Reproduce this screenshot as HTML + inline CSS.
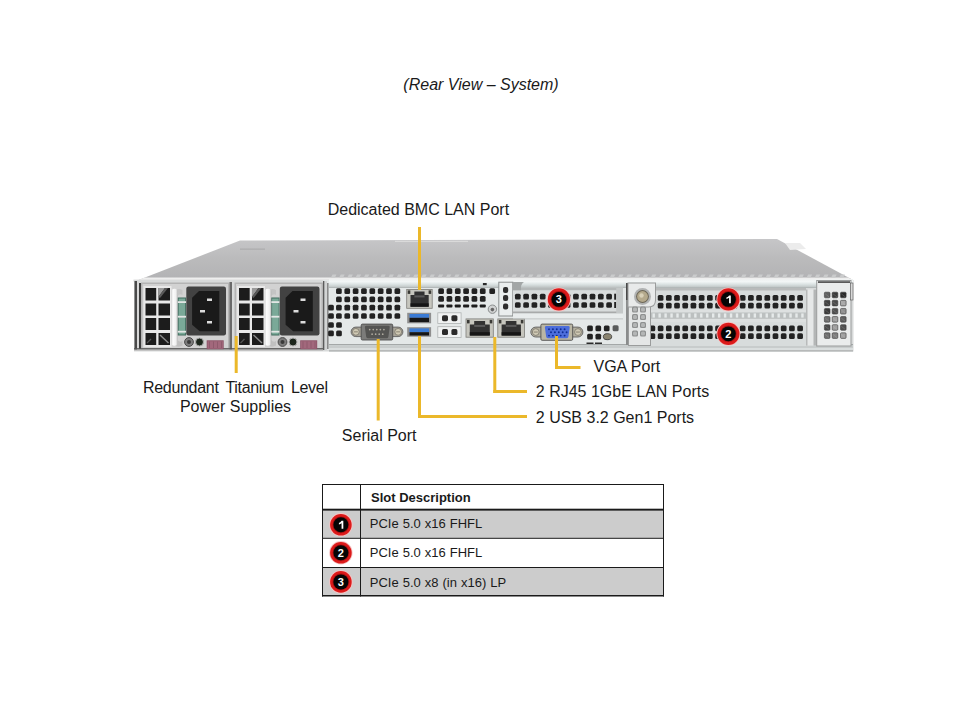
<!DOCTYPE html>
<html><head><meta charset="utf-8"><title>Rear View - System</title>
<style>html,body{margin:0;padding:0;background:#fff;width:960px;height:720px;overflow:hidden;position:relative}</style>
</head><body>
<svg width="960" height="720" viewBox="0 0 960 720" style="position:absolute;left:0;top:0">
<defs><linearGradient id="lid" x1="0" y1="0" x2="0" y2="1"><stop offset="0" stop-color="#c6c6c8"/><stop offset="0.45" stop-color="#bbbbbc"/><stop offset="1" stop-color="#b2b2b4"/></linearGradient><linearGradient id="rail" x1="0" y1="0" x2="0" y2="1"><stop offset="0" stop-color="#eef0f0"/><stop offset="0.3" stop-color="#f2f6f6"/><stop offset="0.65" stop-color="#d6dede"/><stop offset="0.88" stop-color="#c2c8c8"/><stop offset="1" stop-color="#a4aaaa"/></linearGradient><linearGradient id="brail" x1="0" y1="0" x2="0" y2="1"><stop offset="0" stop-color="#c8caca"/><stop offset="0.3" stop-color="#e8eaea"/><stop offset="0.8" stop-color="#dcdede"/><stop offset="1" stop-color="#8e9090"/></linearGradient><linearGradient id="hdl" x1="0" y1="0" x2="1" y2="0"><stop offset="0" stop-color="#d4d4d4"/><stop offset="0.25" stop-color="#fcfcfc"/><stop offset="0.7" stop-color="#f0f0f0"/><stop offset="1" stop-color="#b8b8b8"/></linearGradient></defs>
<polygon points="136,281 240,240.5 777,239 853,280" fill="url(#lid)"/>
<polygon points="785,243 800,243 806,249 790,250" fill="#ececec"/>
<rect x="395.00" y="240.80" width="73.00" height="1.20" fill="#dadada" />
<rect x="240.00" y="248.60" width="25.00" height="1.00" fill="#a8a8aa" />
<polygon points="136,281 144.7,277.6 848.5,277.6 853,281" fill="#eeeeee"/>
<rect x="133.50" y="279.60" width="719.50" height="1.90" fill="#d6d8d8" />
<polygon points="332.50,274.6 336.50,274.6 335.00,277.4 331.00,277.4" fill="#cacbcc"/>
<polygon points="340.70,274.6 344.70,274.6 343.20,277.4 339.20,277.4" fill="#cacbcc"/>
<polygon points="348.90,274.6 352.90,274.6 351.40,277.4 347.40,277.4" fill="#cacbcc"/>
<polygon points="357.10,274.6 361.10,274.6 359.60,277.4 355.60,277.4" fill="#cacbcc"/>
<polygon points="365.30,274.6 369.30,274.6 367.80,277.4 363.80,277.4" fill="#cacbcc"/>
<polygon points="373.50,274.6 377.50,274.6 376.00,277.4 372.00,277.4" fill="#cacbcc"/>
<polygon points="381.70,274.6 385.70,274.6 384.20,277.4 380.20,277.4" fill="#cacbcc"/>
<polygon points="389.90,274.6 393.90,274.6 392.40,277.4 388.40,277.4" fill="#cacbcc"/>
<polygon points="398.10,274.6 402.10,274.6 400.60,277.4 396.60,277.4" fill="#cacbcc"/>
<polygon points="406.30,274.6 410.30,274.6 408.80,277.4 404.80,277.4" fill="#cacbcc"/>
<polygon points="414.50,274.6 418.50,274.6 417.00,277.4 413.00,277.4" fill="#cacbcc"/>
<polygon points="422.70,274.6 426.70,274.6 425.20,277.4 421.20,277.4" fill="#cacbcc"/>
<polygon points="430.90,274.6 434.90,274.6 433.40,277.4 429.40,277.4" fill="#cacbcc"/>
<polygon points="439.10,274.6 443.10,274.6 441.60,277.4 437.60,277.4" fill="#cacbcc"/>
<polygon points="447.30,274.6 451.30,274.6 449.80,277.4 445.80,277.4" fill="#cacbcc"/>
<polygon points="455.50,274.6 459.50,274.6 458.00,277.4 454.00,277.4" fill="#cacbcc"/>
<polygon points="463.70,274.6 467.70,274.6 466.20,277.4 462.20,277.4" fill="#cacbcc"/>
<polygon points="471.90,274.6 475.90,274.6 474.40,277.4 470.40,277.4" fill="#cacbcc"/>
<polygon points="480.10,274.6 484.10,274.6 482.60,277.4 478.60,277.4" fill="#cacbcc"/>
<polygon points="488.30,274.6 492.30,274.6 490.80,277.4 486.80,277.4" fill="#cacbcc"/>
<polygon points="496.50,274.6 500.50,274.6 499.00,277.4 495.00,277.4" fill="#cacbcc"/>
<polygon points="504.70,274.6 508.70,274.6 507.20,277.4 503.20,277.4" fill="#cacbcc"/>
<polygon points="512.90,274.6 516.90,274.6 515.40,277.4 511.40,277.4" fill="#cacbcc"/>
<polygon points="521.10,274.6 525.10,274.6 523.60,277.4 519.60,277.4" fill="#cacbcc"/>
<polygon points="529.30,274.6 533.30,274.6 531.80,277.4 527.80,277.4" fill="#cacbcc"/>
<polygon points="537.50,274.6 541.50,274.6 540.00,277.4 536.00,277.4" fill="#cacbcc"/>
<polygon points="545.70,274.6 549.70,274.6 548.20,277.4 544.20,277.4" fill="#cacbcc"/>
<polygon points="553.90,274.6 557.90,274.6 556.40,277.4 552.40,277.4" fill="#cacbcc"/>
<polygon points="562.10,274.6 566.10,274.6 564.60,277.4 560.60,277.4" fill="#cacbcc"/>
<polygon points="570.30,274.6 574.30,274.6 572.80,277.4 568.80,277.4" fill="#cacbcc"/>
<polygon points="578.50,274.6 582.50,274.6 581.00,277.4 577.00,277.4" fill="#cacbcc"/>
<polygon points="586.70,274.6 590.70,274.6 589.20,277.4 585.20,277.4" fill="#cacbcc"/>
<polygon points="594.90,274.6 598.90,274.6 597.40,277.4 593.40,277.4" fill="#cacbcc"/>
<polygon points="603.10,274.6 607.10,274.6 605.60,277.4 601.60,277.4" fill="#cacbcc"/>
<polygon points="611.30,274.6 615.30,274.6 613.80,277.4 609.80,277.4" fill="#cacbcc"/>
<polygon points="619.50,274.6 623.50,274.6 622.00,277.4 618.00,277.4" fill="#cacbcc"/>
<polygon points="627.70,274.6 631.70,274.6 630.20,277.4 626.20,277.4" fill="#cacbcc"/>
<polygon points="635.90,274.6 639.90,274.6 638.40,277.4 634.40,277.4" fill="#cacbcc"/>
<polygon points="644.10,274.6 648.10,274.6 646.60,277.4 642.60,277.4" fill="#cacbcc"/>
<polygon points="652.30,274.6 656.30,274.6 654.80,277.4 650.80,277.4" fill="#cacbcc"/>
<polygon points="660.50,274.6 664.50,274.6 663.00,277.4 659.00,277.4" fill="#cacbcc"/>
<polygon points="668.70,274.6 672.70,274.6 671.20,277.4 667.20,277.4" fill="#cacbcc"/>
<polygon points="676.90,274.6 680.90,274.6 679.40,277.4 675.40,277.4" fill="#cacbcc"/>
<polygon points="685.10,274.6 689.10,274.6 687.60,277.4 683.60,277.4" fill="#cacbcc"/>
<polygon points="693.30,274.6 697.30,274.6 695.80,277.4 691.80,277.4" fill="#cacbcc"/>
<polygon points="701.50,274.6 705.50,274.6 704.00,277.4 700.00,277.4" fill="#cacbcc"/>
<polygon points="709.70,274.6 713.70,274.6 712.20,277.4 708.20,277.4" fill="#cacbcc"/>
<polygon points="717.90,274.6 721.90,274.6 720.40,277.4 716.40,277.4" fill="#cacbcc"/>
<polygon points="726.10,274.6 730.10,274.6 728.60,277.4 724.60,277.4" fill="#cacbcc"/>
<polygon points="734.30,274.6 738.30,274.6 736.80,277.4 732.80,277.4" fill="#cacbcc"/>
<polygon points="742.50,274.6 746.50,274.6 745.00,277.4 741.00,277.4" fill="#cacbcc"/>
<polygon points="750.70,274.6 754.70,274.6 753.20,277.4 749.20,277.4" fill="#cacbcc"/>
<polygon points="758.90,274.6 762.90,274.6 761.40,277.4 757.40,277.4" fill="#cacbcc"/>
<polygon points="767.10,274.6 771.10,274.6 769.60,277.4 765.60,277.4" fill="#cacbcc"/>
<polygon points="775.30,274.6 779.30,274.6 777.80,277.4 773.80,277.4" fill="#cacbcc"/>
<polygon points="783.50,274.6 787.50,274.6 786.00,277.4 782.00,277.4" fill="#cacbcc"/>
<polygon points="791.70,274.6 795.70,274.6 794.20,277.4 790.20,277.4" fill="#cacbcc"/>
<polygon points="799.90,274.6 803.90,274.6 802.40,277.4 798.40,277.4" fill="#cacbcc"/>
<polygon points="808.10,274.6 812.10,274.6 810.60,277.4 806.60,277.4" fill="#cacbcc"/>
<polygon points="816.30,274.6 820.30,274.6 818.80,277.4 814.80,277.4" fill="#cacbcc"/>
<polygon points="824.50,274.6 828.50,274.6 827.00,277.4 823.00,277.4" fill="#cacbcc"/>
<polygon points="832.70,274.6 836.70,274.6 835.20,277.4 831.20,277.4" fill="#cacbcc"/>
<polygon points="840.90,274.6 844.90,274.6 843.40,277.4 839.40,277.4" fill="#cacbcc"/>
<rect x="134.00" y="280.00" width="719.50" height="71.50" fill="#d8dada" />
<rect x="134.50" y="281.00" width="2.50" height="70.00" fill="#4a4a4a" />
<rect x="137.00" y="282.00" width="2.00" height="68.00" fill="#d8d8d8" />
<rect x="139.00" y="283.00" width="2.50" height="66.00" fill="#3a3a3a" />
<rect x="141.00" y="282.50" width="88.50" height="67.00" fill="#b4b4b4" />
<rect x="142.50" y="284.00" width="85.50" height="64.00" fill="#d2d2d2" />
<rect x="143.50" y="286.00" width="28.00" height="61.00" fill="#e8e8e8" />
<rect x="145.50" y="288.00" width="10.70" height="12.50" fill="#1c1c1c" />
<rect x="145.50" y="303.50" width="10.70" height="12.00" fill="#1c1c1c" />
<rect x="145.50" y="318.00" width="10.70" height="12.00" fill="#1c1c1c" />
<rect x="145.50" y="333.00" width="10.70" height="12.00" fill="#1c1c1c" />
<rect x="158.50" y="288.00" width="11.50" height="12.50" fill="#1c1c1c" />
<rect x="158.50" y="303.50" width="11.50" height="12.00" fill="#1c1c1c" />
<rect x="158.50" y="318.00" width="11.50" height="12.00" fill="#1c1c1c" />
<rect x="158.50" y="333.00" width="11.50" height="12.00" fill="#1c1c1c" />
<polygon points="158.4,288 165,288 158.4,297" fill="#9a9a9a"/>
<polygon points="165,288 168,288 160,298 158.4,297" fill="#5a5a5a"/>
<path d="M160,335 L168.5,343" stroke="#8a8a8a" stroke-width="1.4"/>
<path d="M147,343 L151,339" stroke="#555" stroke-width="1.2"/>
<path d="M174,291 Q178,287.5 182.5,290 L182.5,295 Q180,293 177.6,296 Z" fill="#c4c4c4"/>
<path d="M174,345 Q178,348 182.5,345.5 L182.5,341 Q180,343 177.6,340 Z" fill="#c0c0c0"/>
<rect x="171.3" y="288.8" width="6.6" height="57" rx="3.2" fill="url(#hdl)"/>
<rect x="177.80" y="297.50" width="8.20" height="38.00" fill="#3f6a5c" />
<rect x="178.60" y="298.50" width="6.60" height="36.00" fill="#7aa998" />
<rect x="177.80" y="301.20" width="8.20" height="1.80" fill="#e2e6e4" />
<rect x="177.80" y="315.80" width="8.20" height="1.80" fill="#e2e6e4" />
<rect x="177.80" y="330.80" width="8.20" height="1.80" fill="#e2e6e4" />
<rect x="186.30" y="286.50" width="39.70" height="49.00" fill="#424242" rx="2.2"/>
<polygon points="199,291 219.3,291 219.3,331.3 199.7,331.3 192.1,324.7 192.1,297.7" fill="#1a1a1a"/>
<rect x="207.00" y="298.50" width="5.00" height="2.50" fill="#dcdcdc" />
<rect x="200.00" y="310.00" width="5.00" height="2.50" fill="#dcdcdc" />
<rect x="207.00" y="321.00" width="5.00" height="2.50" fill="#dcdcdc" />
<circle cx="189" cy="342" r="4.4" fill="#7c7c7c" stroke="#4a4a4a" stroke-width="1"/>
<circle cx="189" cy="342" r="2" fill="#3a3a3a"/>
<circle cx="199.5" cy="342" r="4" fill="#1c261c" stroke="#b0b0b0" stroke-width="1"/>
<rect x="229.50" y="282.00" width="2.50" height="68.00" fill="#6a6a6a" />
<rect x="234.50" y="282.50" width="88.50" height="67.00" fill="#b4b4b4" />
<rect x="236.00" y="284.00" width="85.50" height="64.00" fill="#d2d2d2" />
<rect x="237.00" y="286.00" width="28.00" height="61.00" fill="#e8e8e8" />
<rect x="239.00" y="288.00" width="10.70" height="12.50" fill="#1c1c1c" />
<rect x="239.00" y="303.50" width="10.70" height="12.00" fill="#1c1c1c" />
<rect x="239.00" y="318.00" width="10.70" height="12.00" fill="#1c1c1c" />
<rect x="239.00" y="333.00" width="10.70" height="12.00" fill="#1c1c1c" />
<rect x="252.00" y="288.00" width="11.50" height="12.50" fill="#1c1c1c" />
<rect x="252.00" y="303.50" width="11.50" height="12.00" fill="#1c1c1c" />
<rect x="252.00" y="318.00" width="11.50" height="12.00" fill="#1c1c1c" />
<rect x="252.00" y="333.00" width="11.50" height="12.00" fill="#1c1c1c" />
<polygon points="251.9,288 258.5,288 251.9,297" fill="#9a9a9a"/>
<polygon points="258.5,288 261.5,288 253.5,298 251.9,297" fill="#5a5a5a"/>
<path d="M253.5,335 L262.0,343" stroke="#8a8a8a" stroke-width="1.4"/>
<path d="M240.5,343 L244.5,339" stroke="#555" stroke-width="1.2"/>
<path d="M267.5,291 Q271.5,287.5 276.0,290 L276.0,295 Q273.5,293 271.1,296 Z" fill="#c4c4c4"/>
<path d="M267.5,345 Q271.5,348 276.0,345.5 L276.0,341 Q273.5,343 271.1,340 Z" fill="#c0c0c0"/>
<rect x="264.8" y="288.8" width="6.6" height="57" rx="3.2" fill="url(#hdl)"/>
<rect x="271.30" y="297.50" width="8.20" height="38.00" fill="#3f6a5c" />
<rect x="272.10" y="298.50" width="6.60" height="36.00" fill="#7aa998" />
<rect x="271.30" y="301.20" width="8.20" height="1.80" fill="#e2e6e4" />
<rect x="271.30" y="315.80" width="8.20" height="1.80" fill="#e2e6e4" />
<rect x="271.30" y="330.80" width="8.20" height="1.80" fill="#e2e6e4" />
<rect x="279.80" y="286.50" width="39.70" height="49.00" fill="#424242" rx="2.2"/>
<polygon points="292.5,291 312.8,291 312.8,331.3 293.2,331.3 285.6,324.7 285.6,297.7" fill="#1a1a1a"/>
<rect x="300.50" y="298.50" width="5.00" height="2.50" fill="#dcdcdc" />
<rect x="293.50" y="310.00" width="5.00" height="2.50" fill="#dcdcdc" />
<rect x="300.50" y="321.00" width="5.00" height="2.50" fill="#dcdcdc" />
<circle cx="282.5" cy="342" r="4.4" fill="#7c7c7c" stroke="#4a4a4a" stroke-width="1"/>
<circle cx="282.5" cy="342" r="2" fill="#3a3a3a"/>
<circle cx="293.0" cy="342" r="4" fill="#1c261c" stroke="#b0b0b0" stroke-width="1"/>
<rect x="134.00" y="348.20" width="189.00" height="1.40" fill="#555555" />
<rect x="134.00" y="349.60" width="189.00" height="1.40" fill="#c4c4c4" />
<rect x="206.70" y="340.30" width="17.00" height="8.90" fill="#8a5266" />
<rect x="207.50" y="341.20" width="15.40" height="7.40" fill="#a2687c" />
<rect x="209.00" y="341.50" width="1.00" height="6.50" fill="#8e5a6c" />
<rect x="213.00" y="341.50" width="1.00" height="6.50" fill="#8e5a6c" />
<rect x="217.00" y="341.50" width="1.00" height="6.50" fill="#8e5a6c" />
<rect x="221.00" y="341.50" width="1.00" height="6.50" fill="#8e5a6c" />
<rect x="300.20" y="340.30" width="17.00" height="8.90" fill="#8a5266" />
<rect x="301.00" y="341.20" width="15.40" height="7.40" fill="#a2687c" />
<rect x="302.50" y="341.50" width="1.00" height="6.50" fill="#8e5a6c" />
<rect x="306.50" y="341.50" width="1.00" height="6.50" fill="#8e5a6c" />
<rect x="310.50" y="341.50" width="1.00" height="6.50" fill="#8e5a6c" />
<rect x="314.50" y="341.50" width="1.00" height="6.50" fill="#8e5a6c" />
<rect x="323.50" y="280.00" width="302.50" height="70.00" fill="#e4e8e8" />
<rect x="323.00" y="281.00" width="1.60" height="69.00" fill="#5a5a5a" />
<rect x="324.60" y="281.00" width="2.40" height="69.00" fill="#d2d4d4" />
<rect x="327.00" y="283.00" width="1.60" height="66.00" fill="#8a8a8a" />
<rect x="329.00" y="279.00" width="524.00" height="9.00" fill="url(#rail)" />
<rect x="336.05" y="288.25" width="5.7" height="5.7" rx="1.5" fill="#222222"/>
<rect x="336.05" y="296.55" width="5.7" height="5.7" rx="1.5" fill="#222222"/>
<rect x="336.05" y="304.85" width="5.7" height="5.7" rx="1.5" fill="#222222"/>
<rect x="336.05" y="313.15" width="5.7" height="5.7" rx="1.5" fill="#222222"/>
<rect x="344.40" y="288.25" width="5.7" height="5.7" rx="1.5" fill="#222222"/>
<rect x="344.40" y="296.55" width="5.7" height="5.7" rx="1.5" fill="#222222"/>
<rect x="344.40" y="304.85" width="5.7" height="5.7" rx="1.5" fill="#222222"/>
<rect x="344.40" y="313.15" width="5.7" height="5.7" rx="1.5" fill="#222222"/>
<rect x="352.75" y="288.25" width="5.7" height="5.7" rx="1.5" fill="#222222"/>
<rect x="352.75" y="296.55" width="5.7" height="5.7" rx="1.5" fill="#222222"/>
<rect x="352.75" y="304.85" width="5.7" height="5.7" rx="1.5" fill="#222222"/>
<rect x="352.75" y="313.15" width="5.7" height="5.7" rx="1.5" fill="#222222"/>
<rect x="361.10" y="288.25" width="5.7" height="5.7" rx="1.5" fill="#222222"/>
<rect x="361.10" y="296.55" width="5.7" height="5.7" rx="1.5" fill="#222222"/>
<rect x="361.10" y="304.85" width="5.7" height="5.7" rx="1.5" fill="#222222"/>
<rect x="361.10" y="313.15" width="5.7" height="5.7" rx="1.5" fill="#222222"/>
<rect x="369.45" y="288.25" width="5.7" height="5.7" rx="1.5" fill="#222222"/>
<rect x="369.45" y="296.55" width="5.7" height="5.7" rx="1.5" fill="#222222"/>
<rect x="369.45" y="304.85" width="5.7" height="5.7" rx="1.5" fill="#222222"/>
<rect x="369.45" y="313.15" width="5.7" height="5.7" rx="1.5" fill="#222222"/>
<rect x="377.80" y="288.25" width="5.7" height="5.7" rx="1.5" fill="#222222"/>
<rect x="377.80" y="296.55" width="5.7" height="5.7" rx="1.5" fill="#222222"/>
<rect x="377.80" y="304.85" width="5.7" height="5.7" rx="1.5" fill="#222222"/>
<rect x="377.80" y="313.15" width="5.7" height="5.7" rx="1.5" fill="#222222"/>
<rect x="386.15" y="288.25" width="5.7" height="5.7" rx="1.5" fill="#222222"/>
<rect x="386.15" y="296.55" width="5.7" height="5.7" rx="1.5" fill="#222222"/>
<rect x="386.15" y="304.85" width="5.7" height="5.7" rx="1.5" fill="#222222"/>
<rect x="386.15" y="313.15" width="5.7" height="5.7" rx="1.5" fill="#222222"/>
<rect x="394.50" y="288.25" width="5.7" height="5.7" rx="1.5" fill="#222222"/>
<rect x="394.50" y="296.55" width="5.7" height="5.7" rx="1.5" fill="#222222"/>
<rect x="394.50" y="304.85" width="5.7" height="5.7" rx="1.5" fill="#222222"/>
<rect x="394.50" y="313.15" width="5.7" height="5.7" rx="1.5" fill="#222222"/>
<rect x="328.15" y="304.85" width="5.7" height="5.7" rx="1.5" fill="#222222"/>
<rect x="328.15" y="313.15" width="5.7" height="5.7" rx="1.5" fill="#222222"/>
<rect x="328.15" y="322.15" width="5.7" height="5.7" rx="1.5" fill="#222222"/>
<rect x="328.15" y="330.45" width="5.7" height="5.7" rx="1.5" fill="#222222"/>
<rect x="336.15" y="322.15" width="5.7" height="5.7" rx="1.5" fill="#222222"/>
<rect x="336.15" y="330.45" width="5.7" height="5.7" rx="1.5" fill="#222222"/>
<rect x="351.1" y="327.1" width="51.80" height="9.50" rx="4.75" fill="#a8a498" stroke="#5e5e5e" stroke-width="0.9"/>
<circle cx="355.85" cy="331.85" r="3.4" fill="#cfc9b4" stroke="#77736a" stroke-width="0.8"/>
<rect x="353.85" y="331.35" width="4" height="1" fill="#8a8474"/>
<circle cx="398.15" cy="331.85" r="3.4" fill="#cfc9b4" stroke="#77736a" stroke-width="0.8"/>
<rect x="396.15" y="331.35" width="4" height="1" fill="#8a8474"/>
<rect x="361.2" y="324.1" width="31.50" height="15.90" rx="1.2" fill="#7c7c7a" stroke="#4e4e4e" stroke-width="0.9"/>
<path d="M366.1,325.8 L388.5,325.8 Q390,325.8 389.7,327.3 L388.4,336.8 Q388.0,338.3 386.4,338.3 L368.20000000000005,338.3 Q366.6,338.3 366.20000000000005,336.8 L364.90000000000003,327.3 Q364.6,325.8 366.1,325.8 Z" fill="#545452"/>
<circle cx="369.70" cy="329.6" r="0.85" fill="#b0aca0"/>
<circle cx="373.25" cy="329.6" r="0.85" fill="#b0aca0"/>
<circle cx="376.80" cy="329.6" r="0.85" fill="#b0aca0"/>
<circle cx="380.35" cy="329.6" r="0.85" fill="#b0aca0"/>
<circle cx="383.90" cy="329.6" r="0.85" fill="#b0aca0"/>
<circle cx="372.10" cy="334.2" r="0.85" fill="#b0aca0"/>
<circle cx="375.65" cy="334.2" r="0.85" fill="#b0aca0"/>
<circle cx="379.20" cy="334.2" r="0.85" fill="#b0aca0"/>
<circle cx="382.75" cy="334.2" r="0.85" fill="#b0aca0"/>
<rect x="406.70" y="289.40" width="25.50" height="18.90" fill="#c6c6be" stroke="#7e7e7a" stroke-width="0.8"/>
<polygon points="410.5,294.9 414.35,294.9 414.35,291.59999999999997 424.55,291.59999999999997 424.55,294.9 428.7,294.9 428.7,306.7 410.5,306.7" fill="#323232"/>
<rect x="414.35" y="295.40" width="10.20" height="2.00" fill="#5a5a5a" />
<rect x="410.50" y="303.30" width="18.20" height="3.40" fill="#161616" />
<rect x="407.70" y="290.40" width="2.60" height="3.50" fill="#3a3a36" />
<rect x="428.60" y="290.40" width="2.60" height="3.50" fill="#3a3a36" />
<rect x="407.20" y="312.80" width="23.90" height="10.50" fill="#8e8e8e" />
<rect x="409.50" y="314.00" width="19.50" height="3.80" fill="#3a7bd5" />
<rect x="409.50" y="317.80" width="19.50" height="4.30" fill="#161616" />
<rect x="407.20" y="327.20" width="23.90" height="9.50" fill="#8e8e8e" />
<rect x="409.50" y="328.40" width="19.50" height="3.80" fill="#3a7bd5" />
<rect x="409.50" y="332.20" width="19.50" height="3.30" fill="#161616" />
<rect x="438.25" y="288.25" width="5.7" height="5.7" rx="1.5" fill="#222222"/>
<rect x="438.25" y="296.05" width="5.7" height="5.7" rx="1.5" fill="#222222"/>
<rect x="438.10" y="304.50" width="6" height="3" rx="0.8" fill="#1c1c1c"/>
<rect x="446.58" y="288.25" width="5.7" height="5.7" rx="1.5" fill="#222222"/>
<rect x="446.58" y="296.05" width="5.7" height="5.7" rx="1.5" fill="#222222"/>
<rect x="446.43" y="304.50" width="6" height="3" rx="0.8" fill="#1c1c1c"/>
<rect x="454.91" y="288.25" width="5.7" height="5.7" rx="1.5" fill="#222222"/>
<rect x="454.91" y="296.05" width="5.7" height="5.7" rx="1.5" fill="#222222"/>
<rect x="454.76" y="304.50" width="6" height="3" rx="0.8" fill="#1c1c1c"/>
<rect x="463.24" y="288.25" width="5.7" height="5.7" rx="1.5" fill="#222222"/>
<rect x="463.24" y="296.05" width="5.7" height="5.7" rx="1.5" fill="#222222"/>
<rect x="463.09" y="304.50" width="6" height="3" rx="0.8" fill="#1c1c1c"/>
<rect x="471.57" y="288.25" width="5.7" height="5.7" rx="1.5" fill="#222222"/>
<rect x="471.57" y="296.05" width="5.7" height="5.7" rx="1.5" fill="#222222"/>
<rect x="471.42" y="304.50" width="6" height="3" rx="0.8" fill="#1c1c1c"/>
<rect x="479.90" y="288.25" width="5.7" height="5.7" rx="1.5" fill="#222222"/>
<rect x="479.90" y="296.05" width="5.7" height="5.7" rx="1.5" fill="#222222"/>
<rect x="479.75" y="304.50" width="6" height="3" rx="0.8" fill="#1c1c1c"/>
<rect x="489.35" y="288.25" width="5.7" height="5.7" rx="1.5" fill="#222222"/>
<rect x="437.80" y="312.80" width="23.30" height="10.80" fill="#f0f2f2" stroke="#aeb2b2" stroke-width="0.8"/>
<rect x="442.00" y="315.20" width="6" height="6" rx="1.6" fill="#2a2a2a"/>
<rect x="451.40" y="315.20" width="6" height="6" rx="1.6" fill="#2a2a2a"/>
<rect x="437.80" y="326.70" width="23.30" height="10.80" fill="#f0f2f2" stroke="#aeb2b2" stroke-width="0.8"/>
<rect x="442.00" y="329.10" width="6" height="6" rx="1.6" fill="#2a2a2a"/>
<rect x="451.40" y="329.10" width="6" height="6" rx="1.6" fill="#2a2a2a"/>
<circle cx="492.4" cy="309.2" r="4.2" fill="#d0d2d2" stroke="#8a8e8e" stroke-width="1"/>
<circle cx="492.4" cy="309.6" r="1.8" fill="#666"/>
<rect x="466.00" y="318.90" width="27.30" height="18.30" fill="#c6c6be" stroke="#7e7e7a" stroke-width="0.8"/>
<polygon points="469.8,324.4 474.19,324.4 474.19,321.09999999999997 485.11,321.09999999999997 485.11,324.4 489.8,324.4 489.8,335.59999999999997 469.8,335.59999999999997" fill="#323232"/>
<rect x="474.19" y="324.90" width="10.92" height="2.00" fill="#5a5a5a" />
<rect x="469.80" y="332.20" width="20.00" height="3.40" fill="#161616" />
<rect x="467.00" y="319.90" width="2.60" height="3.50" fill="#3a3a36" />
<rect x="489.70" y="319.90" width="2.60" height="3.50" fill="#3a3a36" />
<rect x="497.80" y="318.90" width="26.60" height="18.30" fill="#c6c6be" stroke="#7e7e7a" stroke-width="0.8"/>
<polygon points="501.6,324.4 505.78,324.4 505.78,321.09999999999997 516.42,321.09999999999997 516.42,324.4 520.9,324.4 520.9,335.59999999999997 501.6,335.59999999999997" fill="#323232"/>
<rect x="505.78" y="324.90" width="10.64" height="2.00" fill="#5a5a5a" />
<rect x="501.60" y="332.20" width="19.30" height="3.40" fill="#161616" />
<rect x="498.80" y="319.90" width="2.60" height="3.50" fill="#3a3a36" />
<rect x="520.80" y="319.90" width="2.60" height="3.50" fill="#3a3a36" />
<rect x="498.80" y="282.20" width="14.00" height="33.80" fill="#eaeeee" stroke="#8a8e8e" stroke-width="1"/>
<rect x="503.00" y="286.90" width="5.2" height="6" rx="2" fill="#2e2e2e"/>
<rect x="503.00" y="295.00" width="5.2" height="6" rx="2" fill="#2e2e2e"/>
<rect x="503.00" y="303.40" width="5.2" height="6" rx="2" fill="#2e2e2e"/>
<rect x="482.90" y="283.00" width="3.80" height="2.20" fill="#2a2a2a" />
<rect x="513.00" y="287.50" width="110.00" height="26.00" fill="#d8dcdc" />
<rect x="513.00" y="287.50" width="110.00" height="2.70" fill="#b4b8b8" />
<path d="M512.8,282 L524,282 Q521,284 521,287.5 L521,290.2 L512.8,290.2 Z" fill="#a2a6a6"/>
<rect x="513.00" y="311.50" width="110.00" height="2.00" fill="#a8aaaa" />
<rect x="514.95" y="293.85" width="5.7" height="5.7" rx="1.5" fill="#222222"/>
<rect x="514.95" y="302.15" width="5.7" height="5.7" rx="1.5" fill="#222222"/>
<rect x="523.25" y="293.85" width="5.7" height="5.7" rx="1.5" fill="#222222"/>
<rect x="523.25" y="302.15" width="5.7" height="5.7" rx="1.5" fill="#222222"/>
<rect x="531.55" y="293.85" width="5.7" height="5.7" rx="1.5" fill="#222222"/>
<rect x="531.55" y="302.15" width="5.7" height="5.7" rx="1.5" fill="#222222"/>
<rect x="539.85" y="293.85" width="5.7" height="5.7" rx="1.5" fill="#222222"/>
<rect x="539.85" y="302.15" width="5.7" height="5.7" rx="1.5" fill="#222222"/>
<rect x="548.15" y="293.85" width="5.7" height="5.7" rx="1.5" fill="#222222"/>
<rect x="548.15" y="302.15" width="5.7" height="5.7" rx="1.5" fill="#222222"/>
<rect x="556.45" y="293.85" width="5.7" height="5.7" rx="1.5" fill="#222222"/>
<rect x="556.45" y="302.15" width="5.7" height="5.7" rx="1.5" fill="#222222"/>
<rect x="564.75" y="293.85" width="5.7" height="5.7" rx="1.5" fill="#222222"/>
<rect x="564.75" y="302.15" width="5.7" height="5.7" rx="1.5" fill="#222222"/>
<rect x="573.05" y="293.85" width="5.7" height="5.7" rx="1.5" fill="#222222"/>
<rect x="573.05" y="302.15" width="5.7" height="5.7" rx="1.5" fill="#222222"/>
<rect x="581.35" y="293.85" width="5.7" height="5.7" rx="1.5" fill="#222222"/>
<rect x="581.35" y="302.15" width="5.7" height="5.7" rx="1.5" fill="#222222"/>
<rect x="589.65" y="293.85" width="5.7" height="5.7" rx="1.5" fill="#222222"/>
<rect x="589.65" y="302.15" width="5.7" height="5.7" rx="1.5" fill="#222222"/>
<rect x="597.95" y="293.85" width="5.7" height="5.7" rx="1.5" fill="#222222"/>
<rect x="597.95" y="302.15" width="5.7" height="5.7" rx="1.5" fill="#222222"/>
<rect x="606.25" y="293.85" width="5.7" height="5.7" rx="1.5" fill="#222222"/>
<rect x="606.25" y="302.15" width="5.7" height="5.7" rx="1.5" fill="#222222"/>
<rect x="614.20" y="293.70" width="2.00" height="6.00" fill="#222" />
<rect x="614.20" y="302.00" width="2.00" height="6.00" fill="#222" />
<rect x="616.20" y="288.00" width="6.80" height="25.50" fill="#c4c8c8" />
<rect x="587.15" y="325.45" width="5.7" height="5.7" rx="1.5" fill="#222222"/>
<rect x="587.15" y="333.85" width="5.7" height="5.7" rx="1.5" fill="#222222"/>
<rect x="595.45" y="325.45" width="5.7" height="5.7" rx="1.5" fill="#222222"/>
<rect x="595.45" y="333.85" width="5.7" height="5.7" rx="1.5" fill="#222222"/>
<rect x="603.85" y="325.45" width="5.7" height="5.7" rx="1.5" fill="#222222"/>
<rect x="603.85" y="333.85" width="5.7" height="5.7" rx="1.5" fill="#222222"/>
<rect x="612.60" y="325.30" width="6" height="6" rx="1.5" fill="#5a5c5c"/>
<ellipse cx="607.5" cy="336.7" rx="4.2" ry="3" fill="#8a8470" stroke="#3a3a3a" stroke-width="0.8"/>
<rect x="586.50" y="342.50" width="7.00" height="1.50" fill="#2a2a2a" />
<rect x="595.00" y="342.50" width="7.00" height="1.50" fill="#2a2a2a" />
<rect x="513.00" y="313.50" width="110.00" height="5.00" fill="#e8ecec" />
<rect x="513.00" y="318.50" width="110.00" height="0.80" fill="#b8bcbc" />
<rect x="530.8" y="327.1" width="52.10" height="9.90" rx="4.95" fill="#b4b0a0" stroke="#5e5e5e" stroke-width="0.9"/>
<circle cx="535.75" cy="332.05" r="3.4" fill="#cfc9b4" stroke="#77736a" stroke-width="0.8"/>
<rect x="533.75" y="331.55" width="4" height="1" fill="#8a8474"/>
<circle cx="577.95" cy="332.05" r="3.4" fill="#cfc9b4" stroke="#77736a" stroke-width="0.8"/>
<rect x="575.95" y="331.55" width="4" height="1" fill="#8a8474"/>
<rect x="540.9" y="324.1" width="31.80" height="16.20" rx="1.2" fill="#bab6a4" stroke="#4e4e4e" stroke-width="0.9"/>
<path d="M546.1,326.1 L568.5,326.1 Q570,326.1 569.7,327.6 L568.4,336.8 Q568.0,338.3 566.4,338.3 L548.2,338.3 Q546.6,338.3 546.2,336.8 L544.9,327.6 Q544.6,326.1 546.1,326.1 Z" fill="#4d6edb"/>
<circle cx="549.00" cy="329.3" r="0.95" fill="#0f2c92"/>
<circle cx="552.90" cy="329.3" r="0.95" fill="#0f2c92"/>
<circle cx="556.80" cy="329.3" r="0.95" fill="#0f2c92"/>
<circle cx="560.70" cy="329.3" r="0.95" fill="#0f2c92"/>
<circle cx="564.60" cy="329.3" r="0.95" fill="#0f2c92"/>
<circle cx="551.00" cy="332.3" r="0.95" fill="#0f2c92"/>
<circle cx="554.90" cy="332.3" r="0.95" fill="#0f2c92"/>
<circle cx="558.80" cy="332.3" r="0.95" fill="#0f2c92"/>
<circle cx="562.70" cy="332.3" r="0.95" fill="#0f2c92"/>
<circle cx="566.60" cy="332.3" r="0.95" fill="#0f2c92"/>
<circle cx="549.00" cy="335.6" r="0.95" fill="#0f2c92"/>
<circle cx="552.90" cy="335.6" r="0.95" fill="#0f2c92"/>
<circle cx="556.80" cy="335.6" r="0.95" fill="#0f2c92"/>
<circle cx="560.70" cy="335.6" r="0.95" fill="#0f2c92"/>
<circle cx="564.60" cy="335.6" r="0.95" fill="#0f2c92"/>
<rect x="329.00" y="344.00" width="524.00" height="1.20" fill="#a4a8a8" />
<rect x="329.00" y="345.20" width="524.00" height="2.80" fill="#c8cccc" />
<rect x="329.00" y="348.00" width="524.00" height="2.30" fill="#dadede" />
<rect x="329.00" y="350.30" width="524.00" height="1.20" fill="#a8acac" />
<rect x="651.00" y="288.00" width="155.00" height="58.00" fill="#d8dcdc" />
<rect x="651.00" y="288.00" width="155.00" height="2.50" fill="#b8baba" />
<rect x="657.75" y="294.95" width="5.7" height="5.7" rx="1.5" fill="#222222"/>
<rect x="657.75" y="302.75" width="5.7" height="5.7" rx="1.5" fill="#222222"/>
<rect x="657.75" y="325.45" width="5.7" height="5.7" rx="1.5" fill="#222222"/>
<rect x="657.75" y="333.25" width="5.7" height="5.7" rx="1.5" fill="#222222"/>
<rect x="665.96" y="294.95" width="5.7" height="5.7" rx="1.5" fill="#222222"/>
<rect x="665.96" y="302.75" width="5.7" height="5.7" rx="1.5" fill="#222222"/>
<rect x="665.96" y="325.45" width="5.7" height="5.7" rx="1.5" fill="#222222"/>
<rect x="665.96" y="333.25" width="5.7" height="5.7" rx="1.5" fill="#222222"/>
<rect x="674.16" y="294.95" width="5.7" height="5.7" rx="1.5" fill="#222222"/>
<rect x="674.16" y="302.75" width="5.7" height="5.7" rx="1.5" fill="#222222"/>
<rect x="674.16" y="325.45" width="5.7" height="5.7" rx="1.5" fill="#222222"/>
<rect x="674.16" y="333.25" width="5.7" height="5.7" rx="1.5" fill="#222222"/>
<rect x="682.37" y="294.95" width="5.7" height="5.7" rx="1.5" fill="#222222"/>
<rect x="682.37" y="302.75" width="5.7" height="5.7" rx="1.5" fill="#222222"/>
<rect x="682.37" y="325.45" width="5.7" height="5.7" rx="1.5" fill="#222222"/>
<rect x="682.37" y="333.25" width="5.7" height="5.7" rx="1.5" fill="#222222"/>
<rect x="690.57" y="294.95" width="5.7" height="5.7" rx="1.5" fill="#222222"/>
<rect x="690.57" y="302.75" width="5.7" height="5.7" rx="1.5" fill="#222222"/>
<rect x="690.57" y="325.45" width="5.7" height="5.7" rx="1.5" fill="#222222"/>
<rect x="690.57" y="333.25" width="5.7" height="5.7" rx="1.5" fill="#222222"/>
<rect x="698.78" y="294.95" width="5.7" height="5.7" rx="1.5" fill="#222222"/>
<rect x="698.78" y="302.75" width="5.7" height="5.7" rx="1.5" fill="#222222"/>
<rect x="698.78" y="325.45" width="5.7" height="5.7" rx="1.5" fill="#222222"/>
<rect x="698.78" y="333.25" width="5.7" height="5.7" rx="1.5" fill="#222222"/>
<rect x="706.99" y="294.95" width="5.7" height="5.7" rx="1.5" fill="#222222"/>
<rect x="706.99" y="302.75" width="5.7" height="5.7" rx="1.5" fill="#222222"/>
<rect x="706.99" y="325.45" width="5.7" height="5.7" rx="1.5" fill="#222222"/>
<rect x="706.99" y="333.25" width="5.7" height="5.7" rx="1.5" fill="#222222"/>
<rect x="715.19" y="294.95" width="5.7" height="5.7" rx="1.5" fill="#222222"/>
<rect x="715.19" y="302.75" width="5.7" height="5.7" rx="1.5" fill="#222222"/>
<rect x="715.19" y="325.45" width="5.7" height="5.7" rx="1.5" fill="#222222"/>
<rect x="715.19" y="333.25" width="5.7" height="5.7" rx="1.5" fill="#222222"/>
<rect x="723.40" y="294.95" width="5.7" height="5.7" rx="1.5" fill="#222222"/>
<rect x="723.40" y="302.75" width="5.7" height="5.7" rx="1.5" fill="#222222"/>
<rect x="723.40" y="325.45" width="5.7" height="5.7" rx="1.5" fill="#222222"/>
<rect x="723.40" y="333.25" width="5.7" height="5.7" rx="1.5" fill="#222222"/>
<rect x="731.60" y="294.95" width="5.7" height="5.7" rx="1.5" fill="#222222"/>
<rect x="731.60" y="302.75" width="5.7" height="5.7" rx="1.5" fill="#222222"/>
<rect x="731.60" y="325.45" width="5.7" height="5.7" rx="1.5" fill="#222222"/>
<rect x="731.60" y="333.25" width="5.7" height="5.7" rx="1.5" fill="#222222"/>
<rect x="739.81" y="294.95" width="5.7" height="5.7" rx="1.5" fill="#222222"/>
<rect x="739.81" y="302.75" width="5.7" height="5.7" rx="1.5" fill="#222222"/>
<rect x="739.81" y="325.45" width="5.7" height="5.7" rx="1.5" fill="#222222"/>
<rect x="739.81" y="333.25" width="5.7" height="5.7" rx="1.5" fill="#222222"/>
<rect x="748.02" y="294.95" width="5.7" height="5.7" rx="1.5" fill="#222222"/>
<rect x="748.02" y="302.75" width="5.7" height="5.7" rx="1.5" fill="#222222"/>
<rect x="748.02" y="325.45" width="5.7" height="5.7" rx="1.5" fill="#222222"/>
<rect x="748.02" y="333.25" width="5.7" height="5.7" rx="1.5" fill="#222222"/>
<rect x="756.22" y="294.95" width="5.7" height="5.7" rx="1.5" fill="#222222"/>
<rect x="756.22" y="302.75" width="5.7" height="5.7" rx="1.5" fill="#222222"/>
<rect x="756.22" y="325.45" width="5.7" height="5.7" rx="1.5" fill="#222222"/>
<rect x="756.22" y="333.25" width="5.7" height="5.7" rx="1.5" fill="#222222"/>
<rect x="764.43" y="294.95" width="5.7" height="5.7" rx="1.5" fill="#222222"/>
<rect x="764.43" y="302.75" width="5.7" height="5.7" rx="1.5" fill="#222222"/>
<rect x="764.43" y="325.45" width="5.7" height="5.7" rx="1.5" fill="#222222"/>
<rect x="764.43" y="333.25" width="5.7" height="5.7" rx="1.5" fill="#222222"/>
<rect x="772.63" y="294.95" width="5.7" height="5.7" rx="1.5" fill="#222222"/>
<rect x="772.63" y="302.75" width="5.7" height="5.7" rx="1.5" fill="#222222"/>
<rect x="772.63" y="325.45" width="5.7" height="5.7" rx="1.5" fill="#222222"/>
<rect x="772.63" y="333.25" width="5.7" height="5.7" rx="1.5" fill="#222222"/>
<rect x="780.84" y="294.95" width="5.7" height="5.7" rx="1.5" fill="#222222"/>
<rect x="780.84" y="302.75" width="5.7" height="5.7" rx="1.5" fill="#222222"/>
<rect x="780.84" y="325.45" width="5.7" height="5.7" rx="1.5" fill="#222222"/>
<rect x="780.84" y="333.25" width="5.7" height="5.7" rx="1.5" fill="#222222"/>
<rect x="789.05" y="294.95" width="5.7" height="5.7" rx="1.5" fill="#222222"/>
<rect x="789.05" y="302.75" width="5.7" height="5.7" rx="1.5" fill="#222222"/>
<rect x="789.05" y="325.45" width="5.7" height="5.7" rx="1.5" fill="#222222"/>
<rect x="789.05" y="333.25" width="5.7" height="5.7" rx="1.5" fill="#222222"/>
<rect x="797.25" y="294.95" width="5.7" height="5.7" rx="1.5" fill="#222222"/>
<rect x="797.25" y="302.75" width="5.7" height="5.7" rx="1.5" fill="#222222"/>
<rect x="797.25" y="325.45" width="5.7" height="5.7" rx="1.5" fill="#222222"/>
<rect x="797.25" y="333.25" width="5.7" height="5.7" rx="1.5" fill="#222222"/>
<rect x="651.00" y="310.00" width="155.00" height="12.00" fill="#dde0e0" />
<rect x="651.00" y="312.50" width="155.00" height="6.30" fill="#bcc0c0" />
<rect x="652.50" y="313.40" width="2.40" height="4.20" fill="#e6eaea" />
<rect x="658.45" y="313.40" width="2.40" height="4.20" fill="#e6eaea" />
<rect x="664.40" y="313.40" width="2.40" height="4.20" fill="#e6eaea" />
<rect x="670.35" y="313.40" width="2.40" height="4.20" fill="#e6eaea" />
<rect x="676.30" y="313.40" width="2.40" height="4.20" fill="#e6eaea" />
<rect x="682.25" y="313.40" width="2.40" height="4.20" fill="#e6eaea" />
<rect x="688.20" y="313.40" width="2.40" height="4.20" fill="#e6eaea" />
<rect x="694.15" y="313.40" width="2.40" height="4.20" fill="#e6eaea" />
<rect x="700.10" y="313.40" width="2.40" height="4.20" fill="#e6eaea" />
<rect x="706.05" y="313.40" width="2.40" height="4.20" fill="#e6eaea" />
<rect x="712.00" y="313.40" width="2.40" height="4.20" fill="#e6eaea" />
<rect x="717.95" y="313.40" width="2.40" height="4.20" fill="#e6eaea" />
<rect x="723.90" y="313.40" width="2.40" height="4.20" fill="#e6eaea" />
<rect x="729.85" y="313.40" width="2.40" height="4.20" fill="#e6eaea" />
<rect x="735.80" y="313.40" width="2.40" height="4.20" fill="#e6eaea" />
<rect x="741.75" y="313.40" width="2.40" height="4.20" fill="#e6eaea" />
<rect x="747.70" y="313.40" width="2.40" height="4.20" fill="#e6eaea" />
<rect x="753.65" y="313.40" width="2.40" height="4.20" fill="#e6eaea" />
<rect x="759.60" y="313.40" width="2.40" height="4.20" fill="#e6eaea" />
<rect x="765.55" y="313.40" width="2.40" height="4.20" fill="#e6eaea" />
<rect x="771.50" y="313.40" width="2.40" height="4.20" fill="#e6eaea" />
<rect x="777.45" y="313.40" width="2.40" height="4.20" fill="#e6eaea" />
<rect x="783.40" y="313.40" width="2.40" height="4.20" fill="#e6eaea" />
<rect x="789.35" y="313.40" width="2.40" height="4.20" fill="#e6eaea" />
<rect x="795.30" y="313.40" width="2.40" height="4.20" fill="#e6eaea" />
<rect x="801.25" y="313.40" width="2.40" height="4.20" fill="#e6eaea" />
<rect x="649.55" y="325.45" width="5.7" height="5.7" rx="1.5" fill="#222222"/>
<rect x="649.55" y="333.25" width="5.7" height="5.7" rx="1.5" fill="#222222"/>
<rect x="626.00" y="283.00" width="2.00" height="17.00" fill="#4a4a4a" />
<rect x="626.00" y="300.00" width="2.00" height="45.00" fill="#8a8c8c" />
<rect x="628.00" y="305.00" width="23.00" height="41.00" fill="#9a9c9c" />
<rect x="629.00" y="307.00" width="21.00" height="38.00" fill="#e4e6e6" />
<path d="M627.5,282.5 L656,282.5 L656,300 Q656,307.5 648.5,307.5 L627.5,307.5 Z" fill="#9a9c9c"/>
<path d="M628.5,283.5 L655,283.5 L655,300 Q655,306.5 648.5,306.5 L628.5,306.5 Z" fill="#e8eaea"/>
<circle cx="642.5" cy="296.5" r="8.5" fill="#b0b2b2"/>
<circle cx="642.5" cy="296.5" r="6.4" fill="#6c6656"/>
<circle cx="642.5" cy="296.5" r="5.4" fill="#b4a98c"/>
<circle cx="641.5" cy="295.5" r="2.2" fill="#d8d0b8"/>
<rect x="632.00" y="306.50" width="6" height="6" rx="1.5" fill="#8e9090"/>
<rect x="633.00" y="307.50" width="4" height="4" rx="1.5" fill="#b4b6b6"/>
<rect x="632.00" y="314.00" width="6" height="6" rx="1.5" fill="#8e9090"/>
<rect x="633.00" y="315.00" width="4" height="4" rx="1.5" fill="#b4b6b6"/>
<rect x="632.00" y="322.00" width="6" height="6" rx="1.5" fill="#8e9090"/>
<rect x="633.00" y="323.00" width="4" height="4" rx="1.5" fill="#b4b6b6"/>
<rect x="632.00" y="330.50" width="6" height="6" rx="1.5" fill="#8e9090"/>
<rect x="633.00" y="331.50" width="4" height="4" rx="1.5" fill="#b4b6b6"/>
<rect x="640.00" y="306.50" width="6" height="6" rx="1.5" fill="#8e9090"/>
<rect x="641.00" y="307.50" width="4" height="4" rx="1.5" fill="#b4b6b6"/>
<rect x="640.00" y="314.00" width="6" height="6" rx="1.5" fill="#8e9090"/>
<rect x="641.00" y="315.00" width="4" height="4" rx="1.5" fill="#b4b6b6"/>
<rect x="640.00" y="322.00" width="6" height="6" rx="1.5" fill="#8e9090"/>
<rect x="641.00" y="323.00" width="4" height="4" rx="1.5" fill="#b4b6b6"/>
<rect x="640.00" y="330.50" width="6" height="6" rx="1.5" fill="#8e9090"/>
<rect x="641.00" y="331.50" width="4" height="4" rx="1.5" fill="#b4b6b6"/>
<rect x="806.00" y="289.50" width="11.00" height="56.10" fill="#e6e8e8" />
<rect x="806.00" y="289.50" width="1.50" height="56.10" fill="#b8baba" />
<rect x="813.50" y="289.50" width="3.20" height="56.10" fill="#b4b6b6" />
<rect x="816.70" y="280.50" width="34.30" height="65.50" fill="#eaecec" stroke="#9a9c9c" stroke-width="1"/>
<rect x="818.00" y="281.20" width="32.00" height="1.80" fill="#5a5a5a" />
<rect x="850.50" y="283.00" width="2.50" height="17.00" fill="#d8d8d8" stroke="#555" stroke-width="0.6"/>
<rect x="824.40" y="292.20" width="5.6" height="5.6" rx="1" fill="#606060" stroke="#3c3c3c" stroke-width="0.6"/>
<path d="M825.20,293.80 L829.20,297.00" stroke="#cfcfcf" stroke-opacity="0.25" stroke-width="0.8"/>
<rect x="824.40" y="300.32" width="5.6" height="5.6" rx="1" fill="#404040" stroke="#3c3c3c" stroke-width="0.6"/>
<path d="M825.20,301.92 L829.20,305.12" stroke="#cfcfcf" stroke-opacity="0.25" stroke-width="0.8"/>
<rect x="824.40" y="308.44" width="5.6" height="5.6" rx="1" fill="#3a3a3a" stroke="#3c3c3c" stroke-width="0.6"/>
<path d="M825.20,310.04 L829.20,313.24" stroke="#cfcfcf" stroke-opacity="0.25" stroke-width="0.8"/>
<rect x="824.40" y="316.56" width="5.6" height="5.6" rx="1" fill="#707070" stroke="#3c3c3c" stroke-width="0.6"/>
<path d="M825.20,318.16 L829.20,321.36" stroke="#cfcfcf" stroke-opacity="0.25" stroke-width="0.8"/>
<rect x="824.40" y="324.68" width="5.6" height="5.6" rx="1" fill="#4a4a4a" stroke="#3c3c3c" stroke-width="0.6"/>
<path d="M825.20,326.28 L829.20,329.48" stroke="#cfcfcf" stroke-opacity="0.25" stroke-width="0.8"/>
<rect x="824.40" y="332.80" width="5.6" height="5.6" rx="1" fill="#707070" stroke="#3c3c3c" stroke-width="0.6"/>
<path d="M825.20,334.40 L829.20,337.60" stroke="#cfcfcf" stroke-opacity="0.25" stroke-width="0.8"/>
<rect x="832.20" y="292.20" width="5.6" height="5.6" rx="1" fill="#3a3a3a" stroke="#3c3c3c" stroke-width="0.6"/>
<path d="M833.00,293.80 L837.00,297.00" stroke="#cfcfcf" stroke-opacity="0.25" stroke-width="0.8"/>
<rect x="832.20" y="300.32" width="5.6" height="5.6" rx="1" fill="#4a4a4a" stroke="#3c3c3c" stroke-width="0.6"/>
<path d="M833.00,301.92 L837.00,305.12" stroke="#cfcfcf" stroke-opacity="0.25" stroke-width="0.8"/>
<rect x="832.20" y="308.44" width="5.6" height="5.6" rx="1" fill="#505050" stroke="#3c3c3c" stroke-width="0.6"/>
<path d="M833.00,310.04 L837.00,313.24" stroke="#cfcfcf" stroke-opacity="0.25" stroke-width="0.8"/>
<rect x="832.20" y="316.56" width="5.6" height="5.6" rx="1" fill="#a0a0a0" stroke="#3c3c3c" stroke-width="0.6"/>
<path d="M833.00,318.16 L837.00,321.36" stroke="#cfcfcf" stroke-opacity="0.25" stroke-width="0.8"/>
<rect x="832.20" y="324.68" width="5.6" height="5.6" rx="1" fill="#a0a0a0" stroke="#3c3c3c" stroke-width="0.6"/>
<path d="M833.00,326.28 L837.00,329.48" stroke="#cfcfcf" stroke-opacity="0.25" stroke-width="0.8"/>
<rect x="832.20" y="332.80" width="5.6" height="5.6" rx="1" fill="#808080" stroke="#3c3c3c" stroke-width="0.6"/>
<path d="M833.00,334.40 L837.00,337.60" stroke="#cfcfcf" stroke-opacity="0.25" stroke-width="0.8"/>
<rect x="840.50" y="292.20" width="5.6" height="5.6" rx="1" fill="#2a2a2a" stroke="#3c3c3c" stroke-width="0.6"/>
<path d="M841.30,293.80 L845.30,297.00" stroke="#cfcfcf" stroke-opacity="0.25" stroke-width="0.8"/>
<rect x="840.50" y="300.32" width="5.6" height="5.6" rx="1" fill="#a8a8a8" stroke="#3c3c3c" stroke-width="0.6"/>
<path d="M841.30,301.92 L845.30,305.12" stroke="#cfcfcf" stroke-opacity="0.25" stroke-width="0.8"/>
<rect x="840.50" y="308.44" width="5.6" height="5.6" rx="1" fill="#909090" stroke="#3c3c3c" stroke-width="0.6"/>
<path d="M841.30,310.04 L845.30,313.24" stroke="#cfcfcf" stroke-opacity="0.25" stroke-width="0.8"/>
<rect x="840.50" y="316.56" width="5.6" height="5.6" rx="1" fill="#606060" stroke="#3c3c3c" stroke-width="0.6"/>
<path d="M841.30,318.16 L845.30,321.36" stroke="#cfcfcf" stroke-opacity="0.25" stroke-width="0.8"/>
<rect x="840.50" y="324.68" width="5.6" height="5.6" rx="1" fill="#505050" stroke="#3c3c3c" stroke-width="0.6"/>
<path d="M841.30,326.28 L845.30,329.48" stroke="#cfcfcf" stroke-opacity="0.25" stroke-width="0.8"/>
<rect x="840.50" y="332.80" width="5.6" height="5.6" rx="1" fill="#a0a0a0" stroke="#3c3c3c" stroke-width="0.6"/>
<path d="M841.30,334.40 L845.30,337.60" stroke="#cfcfcf" stroke-opacity="0.25" stroke-width="0.8"/>
<circle cx="558.9" cy="299.4" r="12.0" fill="#f6c4c4"/>
<circle cx="558.9" cy="299.4" r="11.1" fill="#dc1a1a"/>
<circle cx="558.9" cy="299.4" r="8.3" fill="#a81010"/>
<circle cx="558.9" cy="299.4" r="7.4" fill="#050505"/>
<text x="558.9" y="303.34" text-anchor="middle" font-family="Liberation Sans" font-weight="bold" font-size="11" fill="#fff">3</text>
<circle cx="728.4" cy="299.4" r="12.0" fill="#f6c4c4"/>
<circle cx="728.4" cy="299.4" r="11.1" fill="#dc1a1a"/>
<circle cx="728.4" cy="299.4" r="8.3" fill="#a81010"/>
<circle cx="728.4" cy="299.4" r="7.4" fill="#050505"/>
<path d="M729.06,295.46 L730.82,295.46 L730.82,303.34 L729.06,303.34 L729.06,297.82 Q727.74,298.77 726.42,299.01 L726.42,297.59 Q728.40,296.88 729.06,295.46 Z" fill="#fff"/>
<circle cx="728.4" cy="333.8" r="12.0" fill="#f6c4c4"/>
<circle cx="728.4" cy="333.8" r="11.1" fill="#dc1a1a"/>
<circle cx="728.4" cy="333.8" r="8.3" fill="#a81010"/>
<circle cx="728.4" cy="333.8" r="7.4" fill="#050505"/>
<text x="728.4" y="337.74" text-anchor="middle" font-family="Liberation Sans" font-weight="bold" font-size="11" fill="#fff">2</text>
<rect x="418.00" y="227.00" width="3.00" height="63.00" fill="#ebb82a" />
<rect x="234.70" y="336.00" width="3.00" height="37.00" fill="#ebb82a" />
<rect x="376.70" y="339.00" width="3.00" height="81.50" fill="#ebb82a" />
<rect x="418.00" y="336.00" width="3.00" height="82.00" fill="#ebb82a" />
<rect x="418.00" y="415.00" width="109.00" height="3.00" fill="#ebb82a" />
<rect x="493.30" y="337.00" width="3.00" height="56.00" fill="#ebb82a" />
<rect x="493.30" y="390.00" width="33.70" height="3.00" fill="#ebb82a" />
<rect x="555.00" y="336.00" width="3.00" height="33.00" fill="#ebb82a" />
<rect x="555.00" y="366.00" width="25.50" height="3.00" fill="#ebb82a" />
<text x="481" y="89.8" text-anchor="middle" font-size="16" font-style="italic" font-family="Liberation Sans" fill="#1a1a1a">(Rear View – System)</text>
<text x="418.4" y="215.2" text-anchor="middle" font-size="16" font-family="Liberation Sans" fill="#1a1a1a">Dedicated BMC LAN Port</text>
<text x="235.3" y="392.9" text-anchor="middle" font-size="16" letter-spacing="-0.3" word-spacing="3" font-family="Liberation Sans" fill="#1a1a1a">Redundant Titanium Level</text>
<text x="235.5" y="411.7" text-anchor="middle" font-size="16" font-family="Liberation Sans" fill="#1a1a1a">Power Supplies</text>
<text x="379.2" y="440.7" text-anchor="middle" font-size="16" font-family="Liberation Sans" fill="#1a1a1a">Serial Port</text>
<text x="593.5" y="372.2" font-size="16" font-family="Liberation Sans" fill="#1a1a1a">VGA Port</text>
<text x="535.8" y="397" font-size="16" font-family="Liberation Sans" fill="#1a1a1a">2 RJ45 1GbE LAN Ports</text>
<text x="535.8" y="422.5" font-size="16" font-family="Liberation Sans" fill="#1a1a1a">2 USB 3.2 Gen1 Ports</text>
<rect x="323.00" y="511.00" width="340.00" height="27.00" fill="#cccccc" />
<rect x="323.00" y="568.00" width="340.00" height="27.00" fill="#cccccc" />
<rect x="322.00" y="484.00" width="342.00" height="1.00" fill="#1a1a1a" />
<rect x="322.00" y="508.70" width="342.00" height="2.00" fill="#1a1a1a" />
<rect x="322.00" y="537.80" width="342.00" height="1.00" fill="#1a1a1a" />
<rect x="322.00" y="567.00" width="342.00" height="1.00" fill="#1a1a1a" />
<rect x="322.00" y="595.00" width="342.00" height="1.50" fill="#1a1a1a" />
<rect x="322.00" y="484.00" width="1.00" height="112.50" fill="#1a1a1a" />
<rect x="360.00" y="484.00" width="1.00" height="112.50" fill="#1a1a1a" />
<rect x="663.00" y="484.00" width="1.00" height="112.50" fill="#1a1a1a" />
<text x="371" y="501.7" font-size="13" font-weight="bold" font-family="Liberation Sans" fill="#1a1a1a">Slot Description</text>
<text x="369.8" y="528.4" font-size="13" word-spacing="0.4" font-family="Liberation Sans" fill="#1a1a1a">PCIe 5.0 x16 FHFL</text>
<text x="369.8" y="557.4" font-size="13" word-spacing="0.4" font-family="Liberation Sans" fill="#1a1a1a">PCIe 5.0 x16 FHFL</text>
<text x="369.8" y="586.6" font-size="13" word-spacing="0.4" font-family="Liberation Sans" fill="#1a1a1a">PCIe 5.0 x8 (in x16) LP</text>
<circle cx="340.9" cy="524.8" r="11.700000000000001" fill="#f6c4c4"/>
<circle cx="340.9" cy="524.8" r="10.8" fill="#dc1a1a"/>
<circle cx="340.9" cy="524.8" r="8.4" fill="#a81010"/>
<circle cx="340.9" cy="524.8" r="7.5" fill="#050505"/>
<path d="M341.56,520.86 L343.32,520.86 L343.32,528.74 L341.56,528.74 L341.56,523.22 Q340.24,524.17 338.92,524.41 L338.92,522.99 Q340.90,522.28 341.56,520.86 Z" fill="#fff"/>
<circle cx="340.9" cy="552.8" r="11.700000000000001" fill="#f6c4c4"/>
<circle cx="340.9" cy="552.8" r="10.8" fill="#dc1a1a"/>
<circle cx="340.9" cy="552.8" r="8.4" fill="#a81010"/>
<circle cx="340.9" cy="552.8" r="7.5" fill="#050505"/>
<text x="340.9" y="556.74" text-anchor="middle" font-family="Liberation Sans" font-weight="bold" font-size="11" fill="#fff">2</text>
<circle cx="340.9" cy="581.9" r="11.700000000000001" fill="#f6c4c4"/>
<circle cx="340.9" cy="581.9" r="10.8" fill="#dc1a1a"/>
<circle cx="340.9" cy="581.9" r="8.4" fill="#a81010"/>
<circle cx="340.9" cy="581.9" r="7.5" fill="#050505"/>
<text x="340.9" y="585.84" text-anchor="middle" font-family="Liberation Sans" font-weight="bold" font-size="11" fill="#fff">3</text>
</svg>
</body></html>
